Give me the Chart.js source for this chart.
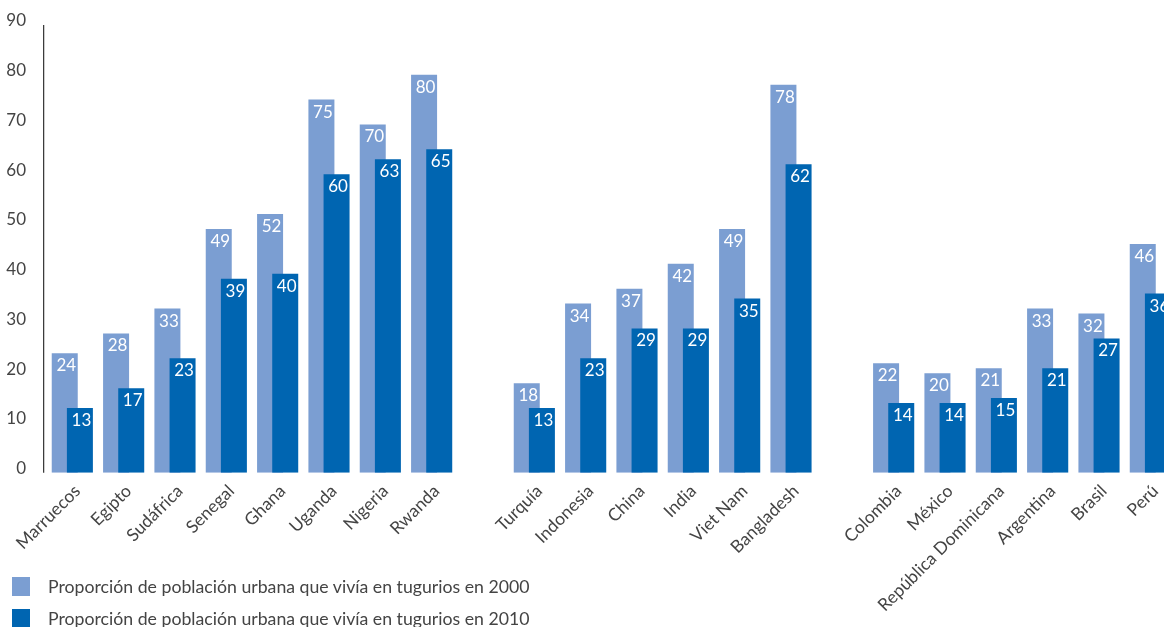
<!DOCTYPE html>
<html>
<head>
<meta charset="utf-8">
<script src="https://cdn.jsdelivr.net/npm/chart.js@4.4.1/dist/chart.umd.min.js"></script>
<style>
html,body{margin:0;padding:0;background:#fff;overflow:hidden;width:1164px;height:627px;}
#wrap{position:relative;width:1176px;height:627px;}
#c{display:block;}
.leg{position:absolute;left:12px;display:flex;align-items:center;font-family:Lato,"Open Sans",sans-serif;font-size:17.7px;color:#444;white-space:nowrap;}
.sw{width:18px;height:19px;margin-right:18px;flex:none;}
</style>
</head>
<body>
<div id="wrap">
<canvas id="c" width="1176" height="627"></canvas>
<div class="leg" style="top:577px;height:19px;"><span class="sw" style="background:#7B9ED2"></span><span id="l1"></span></div>
<div class="leg" style="top:609px;height:19px;"><span class="sw" style="background:#0065B1"></span><span id="l2"></span></div>
</div>
<script>
const categories = ['Marruecos','Egipto','Sudáfrica','Senegal','Ghana','Uganda','Nigeria','Rwanda','',
  'Turquía','Indonesia','China','India','Viet Nam','Bangladesh','',
  'Colombia','México','República Dominicana','Argentina','Brasil','Perú'];
const slums2000 = [24,28,33,49,52,75,70,80,null,18,34,37,42,49,78,null,22,20,21,33,32,46];
const slums2010 = [13,17,23,39,40,60,63,65,null,13,23,29,29,35,62,null,14,14,15,21,27,36];
const seriesNames = ['Proporción de población urbana que vivía en tugurios en 2000',
  'Proporción de población urbana que vivía en tugurios en 2010'];
const yMin = 0, yMax = 90, yStep = 10;
const pairShift = 0.1476; // half the offset between the two overlapping bars, in category units

document.getElementById('l1').textContent = seriesNames[0];
document.getElementById('l2').textContent = seriesNames[1];

const FONT = 'Lato, "Open Sans", sans-serif';

function toPoints(values, shift) {
  const pts = [];
  values.forEach((v, i) => { if (v != null) pts.push({ x: i + shift, y: v }); });
  return pts;
}

const valueLabels = {
  id: 'valueLabels',
  afterDatasetsDraw(chart) {
    const ctx = chart.ctx;
    ctx.save();
    ctx.fillStyle = '#ffffff';
    ctx.font = '17px ' + FONT;
    ctx.textAlign = 'center';
    ctx.textBaseline = 'top';
    chart.data.datasets.forEach((ds, i) => {
      const meta = chart.getDatasetMeta(i);
      meta.data.forEach((bar, j) => {
        const p = ds.data[j];
        ctx.fillText(String(p.y), bar.x + 1.5, bar.y + 4);
      });
    });
    ctx.restore();
  }
};

const yAxisLine = {
  id: 'yAxisLine',
  afterDraw(chart) {
    const ctx = chart.ctx, y = chart.scales.y;
    ctx.save();
    ctx.strokeStyle = '#333';
    ctx.lineWidth = 1.2;
    ctx.beginPath();
    const x = chart.chartArea.left - 3;
    ctx.moveTo(x, y.getPixelForValue(yMax));
    ctx.lineTo(x, y.getPixelForValue(yMin));
    ctx.stroke();
    ctx.restore();
  }
};

new Chart(document.getElementById('c'), {
  type: 'bar',
  data: {
    datasets: [
      { label: seriesNames[0], data: toPoints(slums2000, -pairShift), backgroundColor: '#7B9ED2',
        order: 1, grouped: false, categoryPercentage: 1, barPercentage: 3, maxBarThickness: 26 },
      { label: seriesNames[1], data: toPoints(slums2010, pairShift), backgroundColor: '#0065B1',
        order: 0, grouped: false, categoryPercentage: 1, barPercentage: 3, maxBarThickness: 26 }
    ]
  },
  options: {
    responsive: false,
    animation: false,
    devicePixelRatio: 1,
    layout: { padding: { top: 25, left: 0, right: 0, bottom: 0 } },
    plugins: { legend: { display: false }, tooltip: { enabled: false } },
    scales: {
      x: {
        type: 'linear',
        min: -0.5, max: categories.length - 0.5,
        offset: false,
        grid: { display: false },
        border: { display: false },
        afterBuildTicks(s) { s.ticks = categories.map((c, i) => ({ value: i })); },
        ticks: { autoSkip: false, minRotation: 45, maxRotation: 45, padding: 0, labelOffset: 5,
          color: '#444', font: { family: FONT, size: 17.5 },
          callback: (v) => categories[v] ?? '' },
        afterFit(s) { s.height = 154.3; }
      },
      y: {
        min: yMin, max: yMax,
        grid: { display: false },
        border: { display: false },
        ticks: { stepSize: yStep, padding: 12.6, labelOffset: -4,
          color: '#444', font: { family: FONT, size: 17 } },
        afterFit(s) { s.width = 46.65; }
      }
    }
  },
  plugins: [valueLabels, yAxisLine]
});
</script>
</body>
</html>
